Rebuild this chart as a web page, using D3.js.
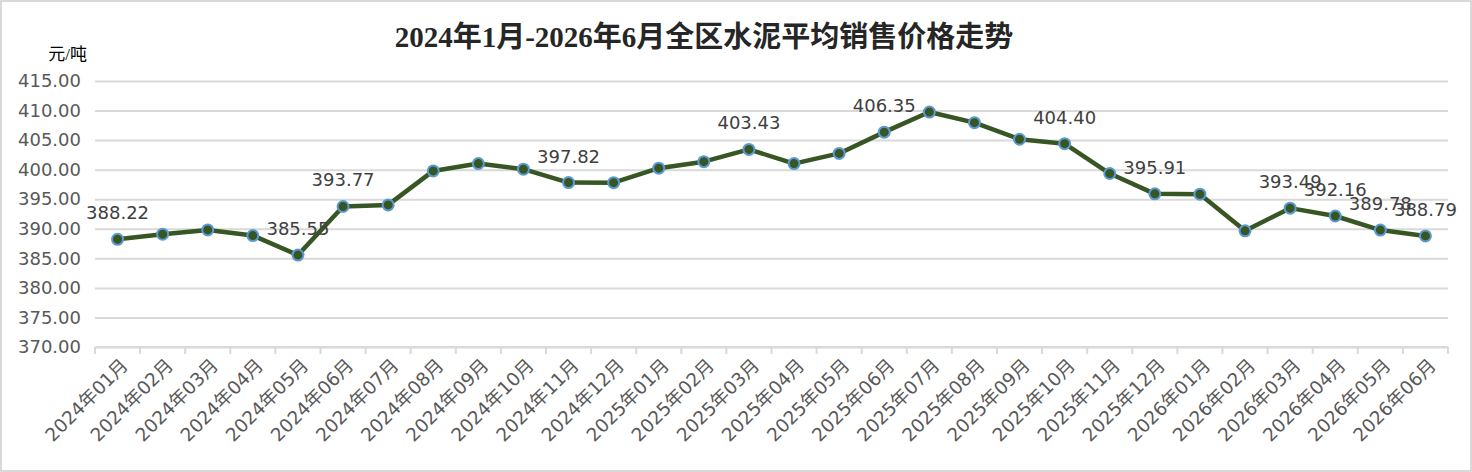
<!DOCTYPE html>
<html>
<head>
<meta charset="utf-8">
<script src="https://cdn.jsdelivr.net/npm/d3@7"></script>
<style>
  body { margin: 0; background: #fff; }
</style>
</head>
<body>
<div id="chart"></div>
<script>
const months = [
  "2024年01月", "2024年02月", "2024年03月", "2024年04月", "2024年05月", "2024年06月",
  "2024年07月", "2024年08月", "2024年09月", "2024年10月", "2024年11月", "2024年12月",
  "2025年01月", "2025年02月", "2025年03月", "2025年04月", "2025年05月", "2025年06月",
  "2025年07月", "2025年08月", "2025年09月", "2025年10月", "2025年11月", "2025年12月",
  "2026年01月", "2026年02月", "2026年03月", "2026年04月", "2026年05月", "2026年06月"
];
const prices = [
  388.22, 389.08, 389.81, 388.85, 385.55, 393.77,
  394.04, 399.79, 401.03, 400.08, 397.82, 397.80,
  400.25, 401.35, 403.43, 401.03, 402.75, 406.35,
  409.75, 407.95, 405.15, 404.40, 399.35, 395.91,
  395.85, 389.65, 393.49, 392.16, 389.78, 388.79
];
// months that carry a value label
const labelled = [0, 4, 5, 10, 14, 17, 21, 23, 26, 27, 28, 29];
const yTicks = [370, 375, 380, 385, 390, 395, 400, 405, 410, 415];

const titleText = "2024年1月-2026年6月全区水泥平均销售价格走势";
const unitText = "元/吨";

const width = 1472;
const height = 472;
const marginTop = 81;
const marginRight = 24;
const marginBottom = 125;
const marginLeft = 95;

const x = d3.scaleBand()
  .domain(months)
  .range([marginLeft, width - marginRight]);

const y = d3.scaleLinear()
  .domain([370, 415])
  .range([height - marginBottom, marginTop]);

const svg = d3.select("#chart")
  .append("svg")
  .attr("width", width)
  .attr("height", height)
  .attr("viewBox", [0, 0, width, height])
  .style("font-family", "'DejaVu Sans', 'Noto Sans CJK SC', sans-serif");

// outer frame
svg.append("rect")
  .attr("x", 1).attr("y", 1)
  .attr("width", width - 2).attr("height", height - 2)
  .attr("fill", "#fff")
  .attr("stroke", "#d9d9d9")
  .attr("stroke-width", 2);

// title
svg.append("text")
  .attr("x", 704)
  .attr("y", 47)
  .attr("text-anchor", "middle")
  .attr("font-family", "'Liberation Serif', 'Noto Sans CJK SC', serif")
  .attr("font-weight", "bold")
  .attr("font-size", 29)
  .attr("fill", "#262626")
  .text(titleText);

// unit
svg.append("text")
  .attr("x", 87)
  .attr("y", 60)
  .attr("text-anchor", "end")
  .attr("font-family", "'Liberation Serif', 'Noto Sans CJK SC', serif")
  .attr("font-size", 17)
  .attr("fill", "#000")
  .text(unitText);

// horizontal gridlines + y labels
const yAxis = svg.append("g")
  .attr("transform", `translate(${marginLeft},0)`)
  .call(d3.axisLeft(y)
    .tickValues(yTicks)
    .tickSize(-(width - marginLeft - marginRight))
    .tickPadding(14)
    .tickFormat(d3.format(".2f")));
yAxis.select(".domain").remove();
yAxis.selectAll(".tick line")
  .attr("stroke", "#d9d9d9")
  .attr("stroke-width", 2);
yAxis.selectAll(".tick text")
  .attr("font-size", 18)
  .attr("font-family", "'DejaVu Sans', sans-serif")
  .attr("fill", "#595959");

// x axis with ticks at band edges
const xAxis = svg.append("g")
  .attr("transform", `translate(0,${height - marginBottom})`);
xAxis.append("line")
  .attr("x1", marginLeft).attr("x2", width - marginRight)
  .attr("stroke", "#d9d9d9").attr("stroke-width", 2);
xAxis.selectAll(".edge")
  .data(months.concat([null]))
  .join("line")
  .attr("class", "edge")
  .attr("x1", (d, i) => marginLeft + i * x.step())
  .attr("x2", (d, i) => marginLeft + i * x.step())
  .attr("y1", 0).attr("y2", 7)
  .attr("stroke", "#d9d9d9").attr("stroke-width", 2);
xAxis.selectAll(".lab")
  .data(months)
  .join("text")
  .attr("class", "lab")
  .attr("transform", d => `translate(${x(d) + x.bandwidth() / 2 + 7},${15}) rotate(-45)`)
  .attr("text-anchor", "end")
  .attr("dy", "0.35em")
  .attr("font-size", 18.5)
  .attr("fill", "#595959")
  .text(d => d);

// line
const line = d3.line()
  .x((d, i) => x(months[i]) + x.bandwidth() / 2)
  .y(d => y(d));

svg.append("path")
  .datum(prices)
  .attr("fill", "none")
  .attr("stroke", "#375623")
  .attr("stroke-width", 4.5)
  .attr("stroke-linejoin", "round")
  .attr("d", line);

// markers
svg.append("g")
  .selectAll("circle")
  .data(prices)
  .join("circle")
  .attr("cx", (d, i) => x(months[i]) + x.bandwidth() / 2)
  .attr("cy", d => y(d))
  .attr("r", 5.5)
  .attr("fill", "#375623")
  .attr("stroke", "#5b9bd5")
  .attr("stroke-width", 2);

// value labels
svg.append("g")
  .selectAll("text")
  .data(labelled)
  .join("text")
  .attr("x", i => x(months[i]) + x.bandwidth() / 2)
  .attr("y", i => y(prices[i]) - 20)
  .attr("text-anchor", "middle")
  .attr("font-size", 18)
  .attr("fill", "#404040")
  .text(i => prices[i].toFixed(2));
</script>
</body>
</html>
